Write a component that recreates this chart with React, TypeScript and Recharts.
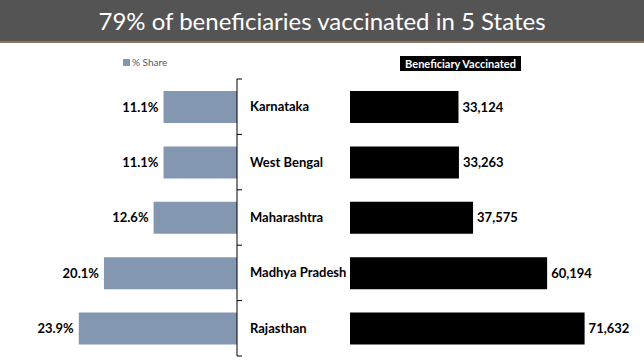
import React from 'react';
import { BarChart, Bar, XAxis, YAxis, LabelList } from 'recharts';

const states = ['Karnataka', 'West Bengal', 'Maharashtra', 'Madhya Pradesh', 'Rajasthan'];
const sharePct = [11.1, 11.1, 12.6, 20.1, 23.9];
const vaccinated = [33124, 33263, 37575, 60194, 71632];
const title = '79% of beneficiaries vaccinated in 5 States';
const shareLegend = '% Share';
const vaccLegend = 'Beneficiary Vaccinated';

const data = states.map((s, i) => ({ name: s, share: sharePct[i], vacc: vaccinated[i] }));

const FONT = 'Lato, "Open Sans", sans-serif';
const SHARE_COLOR = '#8497B0';

const labelStyle = { fontFamily: FONT, fontWeight: 700, fontSize: 13, fill: '#000' };

const LeftTick = (props: any) => {
  const { x, y, payload, index, visibleTicksCount } = props;
  const off = payload.offset || 0;
  const last = index === (visibleTicksCount ?? 5) - 1;
  return (
    <g>
      <line x1={x} x2={x + 5} y1={y - off} y2={y - off} stroke="#000" />
      {last && <line x1={x} x2={x + 5} y1={y + off} y2={y + off} stroke="#000" />}
      <text x={x + 13} y={y} dy="0.35em" textAnchor="start" style={labelStyle}>{payload.value}</text>
    </g>
  );
};

const RightTick = (props: any) => {
  const { x, y, payload, index, visibleTicksCount } = props;
  const off = payload.offset || 0;
  const last = index === (visibleTicksCount ?? 5) - 1;
  return (
    <g>
      <line x1={x} x2={x - 5} y1={y - off} y2={y - off} stroke="#000" />
      {last && <line x1={x} x2={x - 5} y1={y + off} y2={y + off} stroke="#000" />}
    </g>
  );
};

const ShareLabel = (props: any) => {
  const { x, y, width, height, value } = props;
  const left = Math.min(x, x + width);
  return (
    <text x={left - 5} y={y + height / 2} dy="0.35em" textAnchor="end" style={labelStyle}>
      {`${Number(value).toFixed(1)}%`}
    </text>
  );
};

export default function App() {
  return (
    <div style={{ position: 'fixed', left: 0, top: 0, width: 644, height: 362, background: '#fff', overflow: 'hidden', fontFamily: FONT }}>
      <div style={{ position: 'absolute', left: 0, top: 0, width: 644, height: 41, background: '#545454', color: '#fff', fontSize: 24, lineHeight: '41px', textAlign: 'center' }}>
        {title}
      </div>
      <div style={{ position: 'absolute', left: 0, top: 41, width: 644, height: 2, background: '#8a7763' }} />

      <div style={{ position: 'absolute', left: 123, top: 59, width: 7, height: 7, background: SHARE_COLOR }} />
      <div style={{ position: 'absolute', left: 132, top: 54, fontSize: 10, lineHeight: '16px', color: '#595959' }}>{shareLegend}</div>

      <div style={{ position: 'absolute', left: 400, top: 56, width: 121, height: 15, background: '#000', color: '#fff', fontSize: 11, fontWeight: 700, lineHeight: '15px', textAlign: 'center' }}>{vaccLegend}</div>

      <div style={{ position: 'absolute', left: 0, top: 0 }}>
        <BarChart width={360} height={362} data={data} layout="vertical" margin={{ top: 79, bottom: 6, left: 71.5, right: 13 }}>
          <XAxis type="number" domain={[0, 25]} reversed hide />
          <YAxis orientation="right" type="category" dataKey="name" width={110} axisLine={{ stroke: '#000' }} tickLine={false} tickSize={0} tickMargin={0} tick={<LeftTick />} interval={0} />
          <Bar dataKey="share" fill={SHARE_COLOR} barSize={32} isAnimationActive={false}>
            <LabelList dataKey="share" content={<ShareLabel />} />
          </Bar>
        </BarChart>
      </div>

      <div style={{ position: 'absolute', left: 300, top: 0 }}>
        <BarChart width={344} height={362} data={data} layout="vertical" margin={{ top: 79, bottom: 6, left: 50, right: 32 }}>
          <XAxis type="number" domain={[0, 80000]} hide />
          <YAxis orientation="left" type="category" dataKey="name" width={0} axisLine={{ stroke: '#000' }} tickLine={false} tickSize={0} tickMargin={0} tick={<RightTick />} interval={0} />
          <Bar dataKey="vacc" fill="#000" barSize={32} isAnimationActive={false}>
            <LabelList dataKey="vacc" position="right" offset={4} formatter={(v: number) => v.toLocaleString('en-US')} style={labelStyle} />
          </Bar>
        </BarChart>
      </div>
    </div>
  );
}
